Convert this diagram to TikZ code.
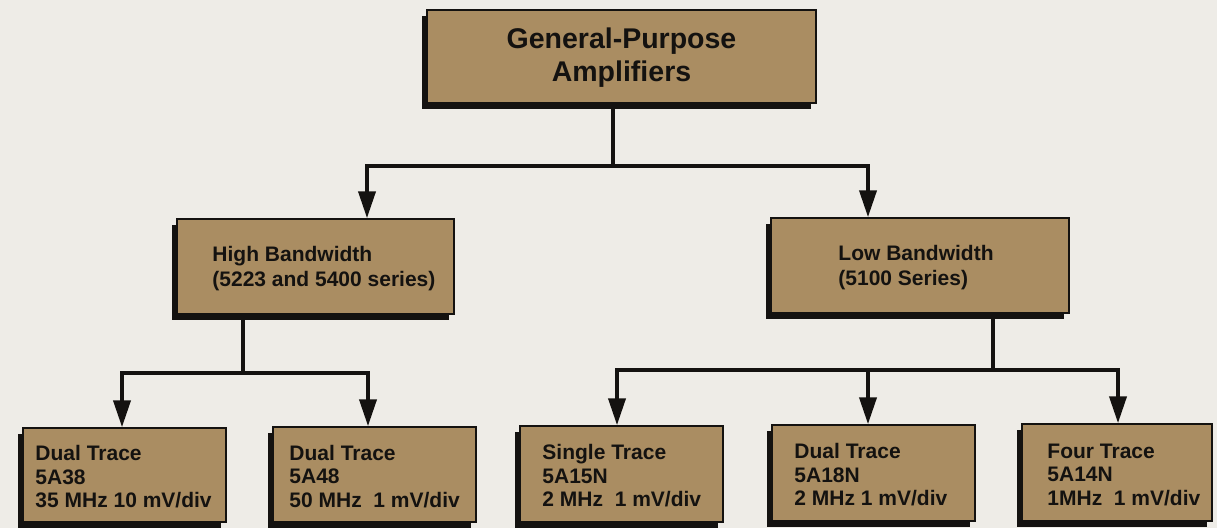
\documentclass[tikz,border=0pt]{standalone}
\usepackage{fontspec}
\setmainfont{Liberation Sans}
\usetikzlibrary{arrows.meta,shadows}
\definecolor{paper}{RGB}{238,236,231}
\definecolor{tan}{RGB}{170,141,98}
\definecolor{ink}{RGB}{20,18,16}
\tikzset{
  box/.style={draw=ink, line width=1.5pt, fill=tan,
    general shadow={shadow xshift=-5pt, shadow yshift=-6pt, fill=ink}},
  toptext/.style={text=ink, align=center, inner sep=0pt,
    font=\bfseries\fontsize{28.5}{33}\selectfont},
  midtext/.style={text=ink, align=left, anchor=west, inner sep=0pt,
    font=\bfseries\fontsize{21}{25}\selectfont},
  leaftext/.style={text=ink, align=left, anchor=west, inner sep=0pt,
    font=\bfseries\fontsize{21}{23.5}\selectfont},
  wire/.style={draw=ink, line width=4pt},
  feed/.style={wire, -{Triangle[length=27pt,width=17pt]}},
}
\begin{document}
\begin{tikzpicture}[x=1pt,y=-1pt]
  \fill[paper] (0,0) rectangle (1217,528);
  \useasboundingbox (0,0) rectangle (1217,528);

  % root
  \node[box, minimum width=389pt, minimum height=93pt] (top) at (621.5,56.5) {};
  \node[toptext] (top-t) at ([yshift=-1.5pt]top.center) {General-Purpose\\Amplifiers};

  % second level
  \node[box, minimum width=277pt, minimum height=95pt] (high) at (315.5,266.5) {};
  \node[midtext] (high-t) at ([xshift=36pt,yshift=-2pt]high.west)
    {High Bandwidth\\(5223 and 5400 series)};
  \node[box, minimum width=298pt, minimum height=95pt] (low) at (920,265.5) {};
  \node[midtext] (low-t) at ([xshift=68pt,yshift=-2pt]low.west)
    {Low Bandwidth\\(5100 Series)};

  % leaves
  \node[box, minimum width=203pt, minimum height=94pt] (b1) at (124.5,475) {};
  \node[leaftext] (b1-t) at ([xshift=13pt,yshift=-2pt]b1.west)
    {Dual Trace\\5A38\\35 MHz 10 mV/div};
  \node[box, minimum width=203pt, minimum height=95pt] (b2) at (374.5,474.5) {};
  \node[leaftext] (b2-t) at ([xshift=17pt,yshift=-2pt]b2.west)
    {Dual Trace\\5A48\\50 MHz\ \ 1 mV/div};
  \node[box, minimum width=203pt, minimum height=96pt] (b3) at (621.5,474) {};
  \node[leaftext] (b3-t) at ([xshift=23pt,yshift=-2pt]b3.west)
    {Single Trace\\5A15N\\2 MHz\ \ 1 mV/div};
  \node[box, minimum width=203pt, minimum height=96pt] (b4) at (873.5,473) {};
  \node[leaftext] (b4-t) at ([xshift=23pt,yshift=-2pt]b4.west)
    {Dual Trace\\5A18N\\2 MHz 1 mV/div};
  \node[box, minimum width=190pt, minimum height=97pt] (b5) at (1117,472.5) {};
  \node[leaftext] (b5-t) at ([xshift=26pt,yshift=-2pt]b5.west)
    {Four Trace\\5A14N\\1MHz\ \ 1 mV/div};

  % root to second level
  \coordinate (busA) at (613,166);
  \draw[wire] ([xshift=-8.5pt]top.south) -- (busA);
  \draw[feed] (busA) -| ([xshift=51.5pt]high.north);
  \draw[feed] (busA) -| ([xshift=-52pt]low.north);

  % high bandwidth branch
  \coordinate (busB) at (243,373);
  \draw[wire] ([xshift=-72.5pt]high.south) -- (busB);
  \draw[feed] (busB) -| ([xshift=-2.5pt]b1.north);
  \draw[feed] (busB) -| ([xshift=-6.5pt]b2.north);

  % low bandwidth branch
  \coordinate (busC) at (993,370);
  \draw[wire] ([xshift=73pt]low.south) -- (busC);
  \draw[feed] (busC) -| ([xshift=-4.5pt]b3.north);
  \draw[feed] (busC) -| ([xshift=-5.5pt]b4.north);
  \draw[feed] (busC) -| ([xshift=1pt]b5.north);
\end{tikzpicture}
\end{document}
